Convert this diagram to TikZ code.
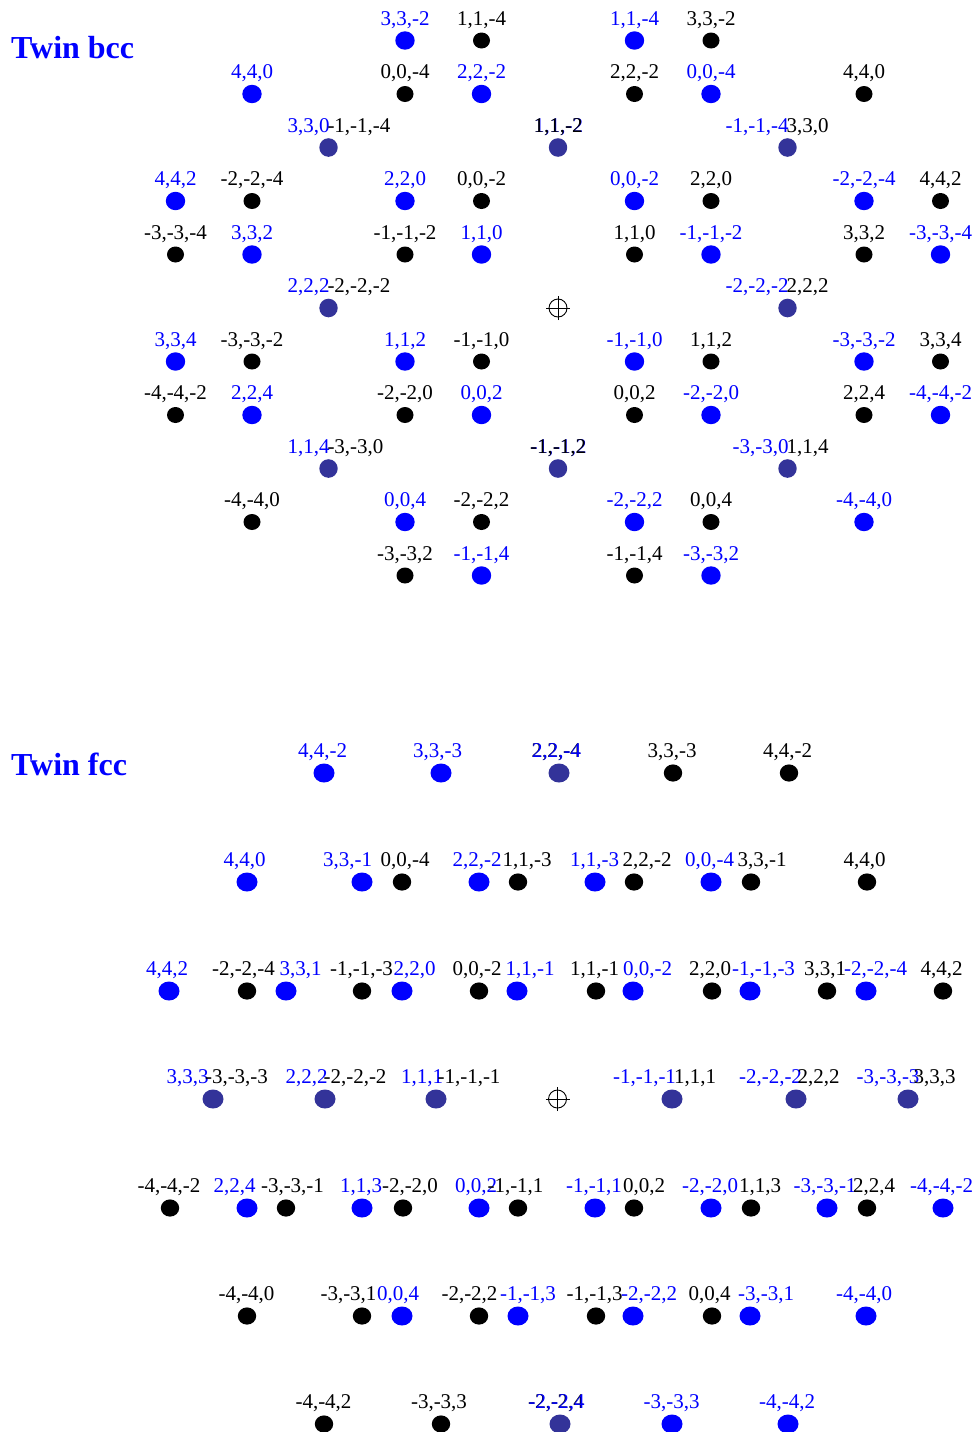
\documentclass[tikz,border=0pt]{standalone}
\usepackage{fontspec}
\setmainfont{Liberation Serif}
\newfontfamily\lblfont{Liberation Serif}
\usetikzlibrary{shapes.geometric}
\definecolor{dkblue}{RGB}{51,51,153}
\tikzset{
  lbl/.style={font={\lblfont\fontsize{21pt}{24pt}\selectfont}, inner sep=0pt, outer sep=0pt, anchor=base},
  lblb/.style={lbl, text=blue},
  lblk/.style={lbl, text=black},
  bdotb/.style={ellipse, fill=blue, inner sep=0pt, minimum width=19.4pt, minimum height=18.4pt},
  bdotk/.style={ellipse, fill=black, inner sep=0pt, minimum width=17pt, minimum height=16pt},
  bdotd/.style={ellipse, fill=dkblue, inner sep=0pt, minimum width=18.4pt, minimum height=18.6pt},
  fdotb/.style={ellipse, fill=blue, inner sep=0pt, minimum width=21pt, minimum height=19pt},
  fdotk/.style={ellipse, fill=black, inner sep=0pt, minimum width=18.4pt, minimum height=17.2pt},
  fdotd/.style={ellipse, fill=dkblue, inner sep=0pt, minimum width=21pt, minimum height=19pt},
  titlelbl/.style={font={\bfseries\fontsize{32pt}{36pt}\selectfont}, text=blue, inner sep=0pt, anchor=base west},
  crossmark/.style={circle, draw=black, line width=0.9pt, minimum size=18pt, inner sep=0pt},
}
% bcc helpers
\newcommand{\bccpt}[5]{%
  \node[bdot#4] (#1) at ({175.5+76.5*#2},{40.5+53.5*#3}) {};
  \node[lbl#4] (#1t) at ([yshift=15.5pt]#1.center) {#5};}
\newcommand{\bccpair}[5]{%
  \node[bdotd] (#1) at ({175.5+76.5*#2},{40.5+53.5*#3}) {};
  \node[lblb, anchor=base east] (#1b) at ([xshift=1pt,yshift=15.5pt]#1.center) {#4};
  \node[lblk, anchor=base west] (#1k) at ([xshift=-1pt,yshift=15.5pt]#1.center) {#5};}
\newcommand{\bccbold}[4]{%
  \node[bdotd] (#1) at ({175.5+76.5*#2},{40.5+53.5*#3}) {};
  \node[lblb] (#1b) at ([xshift=0.7pt,yshift=15.5pt]#1.center) {#4};
  \node[lblk] (#1k) at ([yshift=15.5pt]#1.center) {#4};}
% fcc helpers
\newcommand{\fccpt}[6]{%
  \node[fdot#4] (#1) at (#2,#3) {};
  \node[lbl#4] (#1t) at (#5,{#3-16}) {#6};}
\newcommand{\fccpair}[7]{%
  \node[fdotd] (#1) at (#2,#3) {};
  \node[lblb] (#1b) at (#4,{#3-16}) {#5};
  \node[lblk] (#1k) at (#6,{#3-16}) {#7};}
\newcommand{\fccbold}[5]{%
  \node[fdotd] (#1) at (#2,#3) {};
  \node[lblk] (#1k) at (#4,{#3-16}) {#5};
  \node[lblb] (#1b) at ({#4+0.7},{#3-16}) {#5};}
\newcommand{\xhair}[3]{%
  \node[crossmark] (#1) at (#2,#3) {};
  \draw[line width=0.9pt] ([xshift=-12pt]#1.center) -- ([xshift=12pt]#1.center);
  \draw[line width=0.9pt] ([yshift=-12pt]#1.center) -- ([yshift=12pt]#1.center);}
\begin{document}
\begin{tikzpicture}[x=1pt,y=-1pt]
\useasboundingbox[fill=white] (0,0) rectangle (974,1432);
% titles
\node[titlelbl] (tb) at (11,58) {Twin bcc};
\node[titlelbl] (tf) at (11,775.5) {Twin fcc};
% ---------------- bcc ----------------
\bccpt{a1}{3}{0}{b}{3,3,-2}
\bccpt{a2}{4}{0}{k}{1,1,-4}
\bccpt{a3}{6}{0}{b}{1,1,-4}
\bccpt{a4}{7}{0}{k}{3,3,-2}
\bccpt{b1}{1}{1}{b}{4,4,0}
\bccpt{b2}{3}{1}{k}{0,0,-4}
\bccpt{b3}{4}{1}{b}{2,2,-2}
\bccpt{b4}{6}{1}{k}{2,2,-2}
\bccpt{b5}{7}{1}{b}{0,0,-4}
\bccpt{b6}{9}{1}{k}{4,4,0}
\bccpair{c1}{2}{2}{3,3,0}{-1,-1,-4}
\bccbold{c2}{5}{2}{1,1,-2}
\bccpair{c3}{8}{2}{-1,-1,-4}{3,3,0}
\bccpt{d1}{0}{3}{b}{4,4,2}
\bccpt{d2}{1}{3}{k}{-2,-2,-4}
\bccpt{d3}{3}{3}{b}{2,2,0}
\bccpt{d4}{4}{3}{k}{0,0,-2}
\bccpt{d5}{6}{3}{b}{0,0,-2}
\bccpt{d6}{7}{3}{k}{2,2,0}
\bccpt{d7}{9}{3}{b}{-2,-2,-4}
\bccpt{d8}{10}{3}{k}{4,4,2}
\bccpt{e1}{0}{4}{k}{-3,-3,-4}
\bccpt{e2}{1}{4}{b}{3,3,2}
\bccpt{e3}{3}{4}{k}{-1,-1,-2}
\bccpt{e4}{4}{4}{b}{1,1,0}
\bccpt{e5}{6}{4}{k}{1,1,0}
\bccpt{e6}{7}{4}{b}{-1,-1,-2}
\bccpt{e7}{9}{4}{k}{3,3,2}
\bccpt{e8}{10}{4}{b}{-3,-3,-4}
\bccpair{f1}{2}{5}{2,2,2}{-2,-2,-2}
\xhair{f2}{558}{308}
\bccpair{f3}{8}{5}{-2,-2,-2}{2,2,2}
\bccpt{g1}{0}{6}{b}{3,3,4}
\bccpt{g2}{1}{6}{k}{-3,-3,-2}
\bccpt{g3}{3}{6}{b}{1,1,2}
\bccpt{g4}{4}{6}{k}{-1,-1,0}
\bccpt{g5}{6}{6}{b}{-1,-1,0}
\bccpt{g6}{7}{6}{k}{1,1,2}
\bccpt{g7}{9}{6}{b}{-3,-3,-2}
\bccpt{g8}{10}{6}{k}{3,3,4}
\bccpt{h1}{0}{7}{k}{-4,-4,-2}
\bccpt{h2}{1}{7}{b}{2,2,4}
\bccpt{h3}{3}{7}{k}{-2,-2,0}
\bccpt{h4}{4}{7}{b}{0,0,2}
\bccpt{h5}{6}{7}{k}{0,0,2}
\bccpt{h6}{7}{7}{b}{-2,-2,0}
\bccpt{h7}{9}{7}{k}{2,2,4}
\bccpt{h8}{10}{7}{b}{-4,-4,-2}
\bccpair{i1}{2}{8}{1,1,4}{-3,-3,0}
\bccbold{i2}{5}{8}{-1,-1,2}
\bccpair{i3}{8}{8}{-3,-3,0}{1,1,4}
\bccpt{j1}{1}{9}{k}{-4,-4,0}
\bccpt{j2}{3}{9}{b}{0,0,4}
\bccpt{j3}{4}{9}{k}{-2,-2,2}
\bccpt{j4}{6}{9}{b}{-2,-2,2}
\bccpt{j5}{7}{9}{k}{0,0,4}
\bccpt{j6}{9}{9}{b}{-4,-4,0}
\bccpt{k1}{3}{10}{k}{-3,-3,2}
\bccpt{k2}{4}{10}{b}{-1,-1,4}
\bccpt{k3}{6}{10}{k}{-1,-1,4}
\bccpt{k4}{7}{10}{b}{-3,-3,2}
% ---------------- fcc ----------------
\fccpt{Fa1}{324}{773}{b}{322.5}{4,4,-2}
\fccpt{Fa2}{441}{773}{b}{437.5}{3,3,-3}
\fccbold{Fa3}{559}{773}{556}{2,2,-4}
\fccpt{Fa4}{673}{773}{k}{672}{3,3,-3}
\fccpt{Fa5}{789}{773}{k}{787.5}{4,4,-2}
\fccpt{Fb1}{247}{882}{b}{244.5}{4,4,0}
\fccpt{Fb2}{362}{882}{b}{347.5}{3,3,-1}
\fccpt{Fb3}{402}{882}{k}{405}{0,0,-4}
\fccpt{Fb4}{479}{882}{b}{477}{2,2,-2}
\fccpt{Fb5}{518}{882}{k}{527}{1,1,-3}
\fccpt{Fb6}{595}{882}{b}{594.5}{1,1,-3}
\fccpt{Fb7}{634}{882}{k}{647}{2,2,-2}
\fccpt{Fb8}{711}{882}{b}{709.5}{0,0,-4}
\fccpt{Fb9}{751}{882}{k}{762}{3,3,-1}
\fccpt{Fb10}{867}{882}{k}{864.5}{4,4,0}
\fccpt{Fc1}{169}{991}{b}{167}{4,4,2}
\fccpt{Fc2}{247}{991}{k}{243.5}{-2,-2,-4}
\fccpt{Fc3}{286}{991}{b}{300.5}{3,3,1}
\fccpt{Fc4}{362}{991}{k}{361.5}{-1,-1,-3}
\fccpt{Fc5}{402}{991}{b}{414.5}{2,2,0}
\fccpt{Fc6}{479}{991}{k}{477}{0,0,-2}
\fccpt{Fc7}{517}{991}{b}{530}{1,1,-1}
\fccpt{Fc8}{596}{991}{k}{594.5}{1,1,-1}
\fccpt{Fc9}{633}{991}{b}{647.5}{0,0,-2}
\fccpt{Fc10}{712}{991}{k}{710}{2,2,0}
\fccpt{Fc11}{750}{991}{b}{763.5}{-1,-1,-3}
\fccpt{Fc12}{827}{991}{k}{825}{3,3,1}
\fccpt{Fc13}{866}{991}{b}{875.5}{-2,-2,-4}
\fccpt{Fc14}{943}{991}{k}{941.5}{4,4,2}
\fccpair{Fd1}{213}{1099}{187.5}{3,3,3}{236.5}{-3,-3,-3}
\fccpair{Fd2}{325}{1099}{306.5}{2,2,2}{355}{-2,-2,-2}
\fccpair{Fd3}{436}{1099}{422}{1,1,1}{469}{-1,-1,-1}
\xhair{Fx}{557.5}{1099}
\fccpair{Fd4}{672}{1099}{644.5}{-1,-1,-1}{695}{1,1,1}
\fccpair{Fd5}{796}{1099}{770.5}{-2,-2,-2}{818.5}{2,2,2}
\fccpair{Fd6}{908}{1099}{888}{-3,-3,-3}{934.5}{3,3,3}
\fccpt{Fe1}{170}{1208}{k}{169}{-4,-4,-2}
\fccpt{Fe2}{247}{1208}{b}{234.5}{2,2,4}
\fccpt{Fe3}{286}{1208}{k}{292.5}{-3,-3,-1}
\fccpt{Fe4}{362}{1208}{b}{361}{1,1,3}
\fccpt{Fe5}{403}{1208}{k}{410}{-2,-2,0}
\fccpt{Fe6}{479}{1208}{b}{476}{0,0,2}
\fccpt{Fe7}{518}{1208}{k}{515.5}{-1,-1,1}
\fccpt{Fe8}{595}{1208}{b}{594}{-1,-1,1}
\fccpt{Fe9}{634}{1208}{k}{644}{0,0,2}
\fccpt{Fe10}{711}{1208}{b}{710}{-2,-2,0}
\fccpt{Fe11}{751}{1208}{k}{760}{1,1,3}
\fccpt{Fe12}{827}{1208}{b}{825}{-3,-3,-1}
\fccpt{Fe13}{867}{1208}{k}{874}{2,2,4}
\fccpt{Fe14}{943}{1208}{b}{941.5}{-4,-4,-2}
\fccpt{Ff1}{247}{1316}{k}{246.5}{-4,-4,0}
\fccpt{Ff2}{362}{1316}{k}{348.5}{-3,-3,1}
\fccpt{Ff3}{402}{1316}{b}{398}{0,0,4}
\fccpt{Ff4}{479}{1316}{k}{469.5}{-2,-2,2}
\fccpt{Ff5}{518}{1316}{b}{528}{-1,-1,3}
\fccpt{Ff6}{596}{1316}{k}{594.5}{-1,-1,3}
\fccpt{Ff7}{633}{1316}{b}{649}{-2,-2,2}
\fccpt{Ff8}{712}{1316}{k}{709.5}{0,0,4}
\fccpt{Ff9}{750}{1316}{b}{766}{-3,-3,1}
\fccpt{Ff10}{866}{1316}{b}{864}{-4,-4,0}
\fccpt{Fg1}{324}{1424}{k}{323.5}{-4,-4,2}
\fccpt{Fg2}{441}{1424}{k}{439}{-3,-3,3}
\fccbold{Fg3}{560}{1424}{556}{-2,-2,4}
\fccpt{Fg4}{672}{1424}{b}{671.5}{-3,-3,3}
\fccpt{Fg5}{788}{1424}{b}{787}{-4,-4,2}
\end{tikzpicture}
\end{document}
